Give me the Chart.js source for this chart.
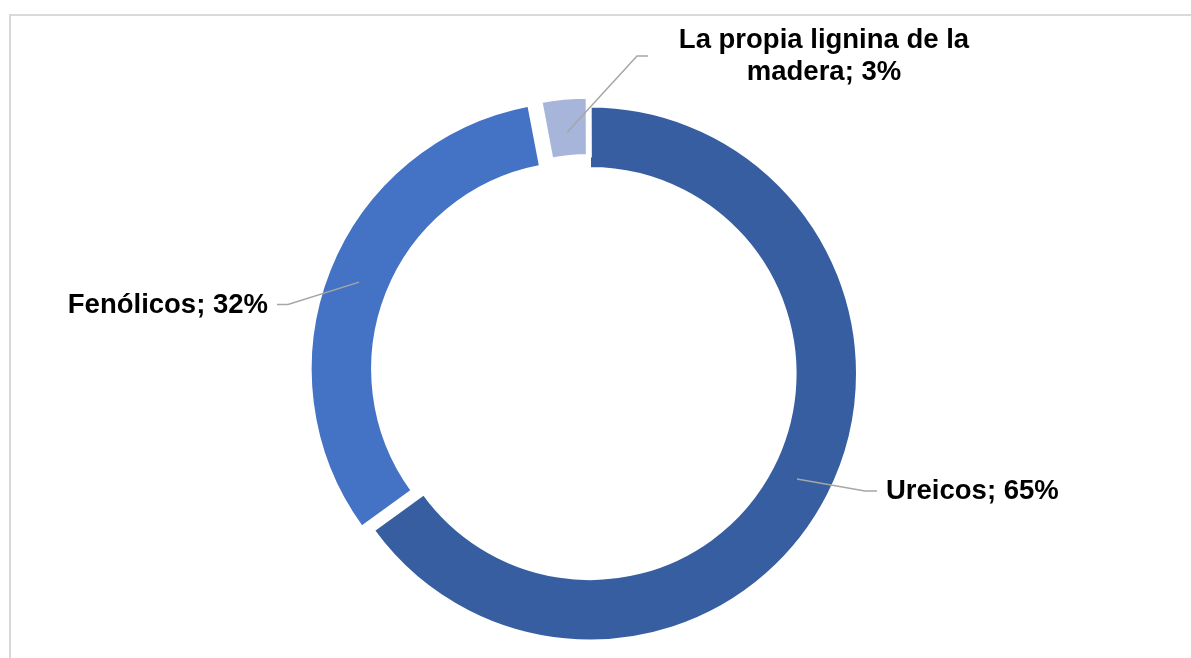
<!DOCTYPE html>
<html>
<head>
<meta charset="utf-8">
<script src="https://cdn.jsdelivr.net/npm/chart.js@4.4.0/dist/chart.umd.min.js"></script>
<style>
  html, body { margin: 0; padding: 0; background: #ffffff; }
  #caja { position: relative; width: 1191px; height: 658px; }
</style>
</head>
<body>
<div id="caja"><canvas id="grafica"></canvas></div>
<script>
// Datos del gráfico
var categorias = ['Ureicos', 'Fenólicos', 'La propia lignina de la madera'];
var porcentajes = [65, 32, 3];
var colores = ['#365EA0', '#4472C4', '#A7B5DB'];
var desplazamientos = [0, 48, 24];

// Dibuja el marco gris, las líneas guía y las etiquetas
var pluginEtiquetas = {
    id: 'etiquetas',
    beforeDraw: function (chart) {
        var ctx = chart.ctx;
        ctx.save();
        ctx.strokeStyle = '#D9D9D9';
        ctx.lineWidth = 2;
        ctx.strokeRect(10, 15, 1400, 900);
        ctx.restore();
    },
    afterDraw: function (chart) {
        var ctx = chart.ctx;
        var arcos = chart.getDatasetMeta(0).data;
        // codo de la línea guía, final de la línea y posición del texto
        var guias = [
            { codo: [865, 491], fin: [877, 491], texto: [886, 491.5], alinear: 'left', extra: -4 },
            { codo: [288, 304.5], fin: [277, 304.5], texto: [268, 305.5], alinear: 'right', extra: 12 },
            { codo: [637, 56], fin: [648, 56], texto: [824, 40.5], alinear: 'center', extra: 6 }
        ];
        ctx.save();
        ctx.font = 'bold 27.5px "Liberation Sans", Arial, sans-serif';
        for (var i = 0; i < arcos.length; i++) {
            var arco = arcos[i];
            var g = guias[i];
            var medio = (arco.startAngle + arco.endAngle) / 2;
            var r = (arco.innerRadius + arco.outerRadius) / 2 + g.extra;
            var ax = arco.x + Math.cos(medio) * r;
            var ay = arco.y + Math.sin(medio) * r;

            ctx.strokeStyle = '#A6A6A6';
            ctx.lineWidth = 1.5;
            ctx.beginPath();
            ctx.moveTo(ax, ay);
            ctx.lineTo(g.codo[0], g.codo[1]);
            ctx.lineTo(g.fin[0], g.fin[1]);
            ctx.stroke();

            // texto con ajuste de línea
            var texto = categorias[i] + '; ' + porcentajes[i] + '%';
            var palabras = texto.split(' ');
            var lineas = [];
            var actual = '';
            for (var p = 0; p < palabras.length; p++) {
                var prueba = actual ? actual + ' ' + palabras[p] : palabras[p];
                if (ctx.measureText(prueba).width > 310 && actual) {
                    lineas.push(actual);
                    actual = palabras[p];
                } else {
                    actual = prueba;
                }
            }
            lineas.push(actual);

            ctx.fillStyle = '#000000';
            ctx.textAlign = g.alinear;
            ctx.textBaseline = 'middle';
            for (var l = 0; l < lineas.length; l++) {
                ctx.fillText(lineas[l], g.texto[0], g.texto[1] + l * 32);
            }
        }
        ctx.restore();
    }
};

var ctx = document.getElementById('grafica').getContext('2d');
var miGrafica = new Chart(ctx, {
    type: 'doughnut',
    data: {
        labels: categorias,
        datasets: [{
            data: porcentajes,
            backgroundColor: colores,
            borderColor: '#FFFFFF',
            borderWidth: [2, 2, 6],
            offset: desplazamientos
        }]
    },
    options: {
        responsive: true,
        maintainAspectRatio: false,
        animation: false,
        radius: 267,
        cutout: '77%',
        layout: { padding: { left: 0, right: 11, top: 89, bottom: 0 } },
        plugins: {
            legend: { display: false },
            tooltip: { enabled: false }
        }
    },
    plugins: [pluginEtiquetas]
});
</script>
</body>
</html>
